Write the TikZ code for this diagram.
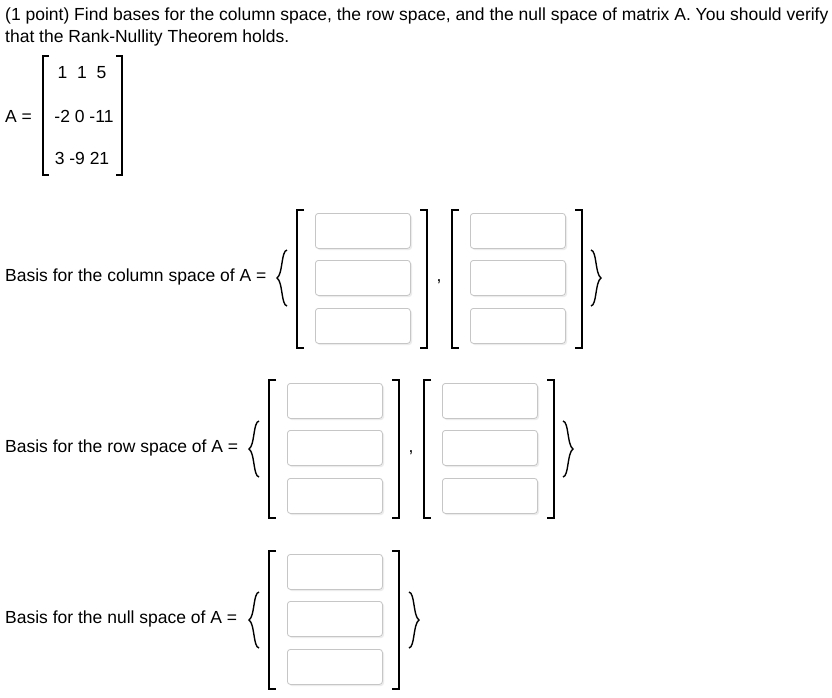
\documentclass[tikz,border=0pt]{standalone}
\usepackage{fontspec}
\setmainfont{Liberation Sans}
\newcommand{\mylbrace}[2]{\draw[line width=1.4pt] (#1+7,#2-28) .. controls (#1+1,#2-27) and (#1+3,#2-4) .. (#1-3,#2) .. controls (#1+3,#2+4) and (#1+1,#2+27) .. (#1+7,#2+28);}
\newcommand{\myrbrace}[2]{\draw[line width=1.4pt] (#1-7,#2-28) .. controls (#1-1,#2-27) and (#1-3,#2-4) .. (#1+3,#2) .. controls (#1-3,#2+4) and (#1-1,#2+27) .. (#1-7,#2+28);}
\newcommand{\myvecbox}[3]{%
  \draw[brk] (#2+7,#3-3) -- (#2,#3-3) -- (#2,#3+135) -- (#2+7,#3+135);
  \draw[brk] (#2+123,#3-3) -- (#2+130,#3-3) -- (#2+130,#3+135) -- (#2+123,#3+135);
  \foreach \k/\dy in {1/0,2/47,3/95}{
    \fill[gray!15,rounded corners=3pt] (#2+20,#3+\dy+2) rectangle ++(95,35);
    \node[ansbox,anchor=north west] (#1\k) at (#2+18,#3+\dy) {};}%
}
\begin{document}
\begin{tikzpicture}[x=1pt,y=-1pt,
  txt/.style={inner sep=0pt,anchor=west,font=\fontsize{17.5}{21}\selectfont},
  ent/.style={inner sep=0pt,font=\fontsize{17.5}{21}\selectfont},
  ansbox/.style={draw=gray!45,rounded corners=3pt,minimum width=95pt,minimum height=35pt,inner sep=0pt,line width=0.8pt,fill=white},
  brk/.style={line width=1.2pt}]
\useasboundingbox (0,0) rectangle (832,697);
\fill[white] (0,0) rectangle (832,697);
\node[txt] (t1) at (5,16) {(1 point) Find bases for the column space, the row space, and the null space of matrix A. You should verify};
\node[txt] (t2) at (5,38) {that the Rank-Nullity Theorem holds.};
% matrix
\node[txt] (aeq) at (5,116) {A =};
\node[ent] (r1) at (82,73) {1\ \ 1\ \ 5};
\node[ent] (r2) at (84,116) {-2 0 -11};
\node[ent] (r3) at (82,158) {3 -9 21};
\draw[brk] (49,56) -- (43,56) -- (43,175) -- (49,175);
\draw[brk] (116,56) -- (122,56) -- (122,175) -- (116,175);
% column space
\node[txt] (lc) at (5,277) {Basis for the column space of A =};
\mylbrace{280}{278}
\myvecbox{cA}{297}{213}
\node[ent] (cc) at (439,282) {,};
\myvecbox{cB}{452}{213}
\myrbrace{598}{278}
% row space
\node[txt] (lr) at (5,448) {Basis for the row space of A =};
\mylbrace{252}{449}
\myvecbox{rA}{269}{383}
\node[ent] (rc) at (411,453) {,};
\myvecbox{rB}{424}{383}
\myrbrace{570}{449}
% null space
\node[txt] (ln) at (5,619) {Basis for the null space of A =};
\mylbrace{252}{620}
\myvecbox{nA}{269}{554}
\myrbrace{416}{620}
\end{tikzpicture}
\end{document}
